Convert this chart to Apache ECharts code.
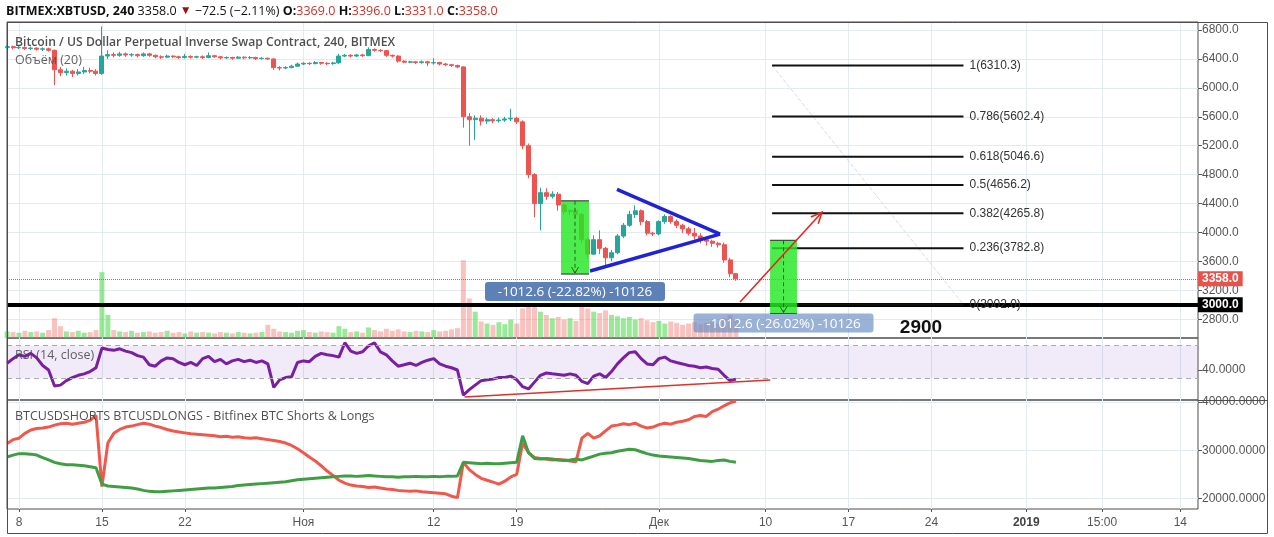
<!DOCTYPE html>
<html><head><meta charset="utf-8">
<script src="https://cdn.jsdelivr.net/npm/echarts@6/dist/echarts.min.js"></script>
<style>html,body{margin:0;padding:0;background:#fff}#c{width:1274px;height:537px}</style>
</head><body><div id="c"></div><script>
// ---------- DATA ----------
const START_DAY = 6.0;   // days since 1 Oct 2018 of first 12h candle
const STEP = 0.5;        // 12h candles
const candles = [ // [open, close, low, high]
[6560,6570,6540,6590],[6570,6555,6530,6585],[6555,6560,6535,6580],[6560,6545,6525,6575],[6545,6550,6520,6570],[6550,6535,6515,6560],[6535,6540,6510,6560],[6540,6520,6500,6555],
[6520,6250,6040,6530],[6250,6210,6160,6290],[6210,6230,6170,6270],[6230,6200,6150,6250],[6200,6220,6170,6260],[6220,6240,6190,6290],[6240,6230,6200,6280],[6230,6200,6170,6260],
[6200,6440,6180,6850],[6440,6460,6400,6520],[6460,6450,6420,6490],[6450,6470,6430,6500],[6470,6455,6430,6490],[6455,6460,6430,6480],[6460,6445,6420,6475],[6445,6470,6430,6490],
[6470,6450,6430,6485],[6450,6430,6410,6460],[6430,6425,6400,6450],[6425,6440,6410,6460],[6440,6430,6410,6450],[6430,6420,6400,6445],[6420,6435,6405,6470],[6435,6425,6405,6450],
[6425,6430,6410,6445],[6430,6420,6400,6450],[6420,6445,6410,6490],[6445,6430,6415,6455],[6430,6415,6395,6440],[6415,6420,6400,6435],[6420,6410,6390,6430],[6410,6425,6400,6440],
[6425,6415,6395,6435],[6415,6420,6400,6440],[6420,6405,6385,6430],[6405,6410,6390,6425],[6410,6400,6385,6420],[6400,6280,6250,6410],[6280,6275,6240,6300],[6275,6280,6260,6300],
[6280,6300,6270,6320],[6300,6330,6290,6350],[6330,6340,6315,6355],[6340,6335,6315,6355],[6335,6350,6325,6370],[6350,6340,6320,6360],[6340,6335,6315,6355],[6335,6345,6320,6360],
[6345,6440,6335,6470],[6440,6450,6425,6470],[6450,6440,6420,6465],[6440,6455,6430,6470],[6455,6445,6430,6470],[6445,6530,6440,6560],[6530,6520,6500,6545],[6520,6515,6495,6535],
[6515,6450,6430,6525],[6450,6440,6420,6460],[6440,6370,6350,6450],[6370,6355,6340,6380],[6355,6360,6340,6375],[6360,6350,6330,6370],[6350,6360,6335,6380],[6360,6345,6300,6375],
[6345,6350,6320,6410],[6350,6330,6310,6360],[6330,6320,6300,6345],[6320,6310,6290,6330],[6310,6290,6270,6320],[6290,5600,5450,6300],[5600,5560,5200,5650],[5560,5580,5280,5620],
[5580,5540,5480,5620],[5540,5560,5500,5590],[5560,5545,5510,5580],[5545,5555,5520,5590],[5555,5570,5530,5600],[5570,5580,5540,5710],[5580,5530,5500,5600],[5530,5200,5150,5550],
[5200,4800,4750,5230],[4800,4400,4210,4820],[4400,4550,4030,4620],[4550,4500,4450,4610],[4500,4530,4470,4570],[4530,4380,4300,4560],[4380,4290,4250,4400],[4290,4300,4240,4320],
[4300,4250,4200,4320],[4250,3900,3850,4270],[3900,3700,3640,3920],[3700,3900,3690,3960],[3900,3780,3700,4030],[3780,3650,3545,3800],[3650,3720,3600,3760],[3720,3950,3700,3980],
[3950,4100,3920,4130],[4100,4250,4080,4300],[4250,4300,4200,4375],[4300,4150,4100,4320],[4150,3990,3960,4170],[3990,3980,3950,4010],[3980,4150,3960,4170],[4150,4220,4120,4250],
[4220,4150,4120,4240],[4150,4100,4060,4180],[4100,4050,3990,4120],[4050,3990,3960,4080],[3990,3950,3900,4060],[3950,3900,3850,3990],[3900,3880,3820,3930],[3880,3850,3800,3900],
[3850,3830,3790,3870],[3830,3620,3580,3860],[3620,3430,3380,3650],[3430,3358,3331,3440]
];
const volumes = [10,9,8,11,9,10,8,12, 30,18,10,9,11,8,9,12, 100,35,12,10,9,11,8,9,10,8,9,11,
 8,9,7,10,8,9,8,7,9,8,7,9,8,7,8,9, 20,14,10,9,8,11,12,9,8,10,9,8,
 18,14,9,10,8,16,12,10,14,11,13,10,9,11,10,9,12,10,11,13,15,
 118,60,40,25,22,20,24,21,28,22, 45,50,52,40,35,30,32,28,30,26,
 48,45,40,38,42,35,33,30,32,28,30,27, 24,26,22,25,23,20,22,24,21,23,25,22, 30,35,28];
const rsi = [48.4,54,58.7,56.8,60.5,54.9,45.6,40, 20.4,21.4,26.9,30.7,33.5,35.3,38.1,42.8,
 67,65.2,64.2,66.1,63.3,61.4,57.7,55.9,46.5,44.7,51.2,54.9,
 54,49.3,46.5,49.3,45.6,54,56.8,50.3,53.1,47.5,51.2,53.1,50.3,52.1,49.3,51.2,
 47.5,18.6,27.9,30.7,31.6,49.3,51.2,50.3,56.8,60.5,58.7,57.7,
 55.9,73.6,63.3,60.5,62.4,69.8,73.6,62.4,58.7,51.2,44.7,46.5,48.4,45.6,49.3,52.1,54,47.5,44.7,42.8,40,
 9.2,15.8,21.4,26.9,27.9,28.8,30.7,30.7,32.5,27.9, 19.5,16.7,25.1,33.5,36.3,35.3,34.4,33.5,35.3,33.5,
 26,23.2,32.5,35.3,30.7,38.1,47.5,54.9,61.4,62.4,54,47.5, 46.5,54,55.9,51.2,49.3,47.5,45.6,44.7,42.8,43.7,41.9,40.9,
 33.5,26.9,28.8];
const shorts = [31400,32200,32500,33500,34200,34500,34600,34800,35200,35500,35600,35400,35600,35800,36200,37200,
 22500,31500,33500,34300,34800,35000,35300,35600,35400,35000,34700,34300,34000,33800,33600,33400,
 33300,33200,33100,33000,32800,32900,32700,32800,32600,32500,32600,32400,32200,32000,31800,31500,
 31000,30300,29500,28600,27800,26800,25700,24800,23800,23200,22800,22600,22500,22300,22400,22200,
 22000,21900,21700,21600,21500,21600,21400,21300,21200,21100,21000,20500,20200,27500,26000,25000,
 24200,23800,23400,23000,23600,24500,25000,31500,29500,28500,28300,28200,28000,28100,28000,27800,
 27600,32500,33500,32500,33000,34000,35000,35200,35500,35300,35600,35000,34600,34800,35300,35600,
 35400,35800,36000,36300,37000,37200,37000,38000,38500,39200,39800,40200];
const longs = [28600,29000,29300,29300,29200,29000,28500,28000,27500,27200,27000,27000,26900,26800,26600,26400,
 23000,22600,22500,22400,22300,22200,22000,21700,21500,21400,21400,21500,21600,21700,21800,21900,
 22000,22100,22200,22200,22300,22400,22500,22700,22800,22900,23000,23100,23200,23300,23400,23500,
 23700,23900,24000,24100,24200,24300,24400,24500,24600,24700,24700,24600,24700,24800,24700,24600,
 24500,24500,24400,24500,24500,24600,24500,24500,24600,24500,24600,24600,24700,27500,27400,27300,
 27200,27300,27200,27200,27300,27400,27500,33000,29500,28300,28200,28300,28200,28000,27900,28000,
 28200,28000,28400,28800,29200,29400,29500,29800,30000,30200,30100,29700,29300,29000,28800,28700,
 28600,28500,28400,28300,28100,27900,27800,27700,27900,28000,27700,27500];
const dayTicks = [7,14,21,31,42,49,61,70,77,84,92,98.4,105];
const dayTickLabels = ['8','15','22','Ноя','12','19','Дек','10','17','24','2019','15:00','14'];
const priceTicks = [2800,3200,3600,4000,4400,4800,5200,5600,6000,6400,6800];
const rsiTicks = [40];
const slTicks = [20000,30000,40000];
const fibLevels = ['1','0.786','0.618','0.5','0.382','0.236','0'];
const fibPrices = [6310.3,5602.4,5046.6,4656.2,4265.8,3782.8,3002.0];
const fibDays = [70.55, 86.7];
const triangleTop = [[57.46,4596],[66.16,3976]];
const triangleBottom = [[55.19,3466],[66.16,3976]];
const boxes = [[52.74,55.10,4437.0,3424.4,'-1012.6 (-22.82%) -10126'],[70.38,72.65,3891.6,2879.0,'-1012.6 (-26.02%) -10126']];
const arrowLine = [[67.85,3039],[74.76,4279]];
const rsiTrend = [[44.6,6.8],[70.4,27.7]];
const lastPrice = 3358.0;
const supportPrice = 3000.0;
const noteText = '2900';
const headerSymbol = 'BITMEX:XBTUSD, 240';
const headerLast = '3358.0';
const headerChange = '−72.5 (−2.11%)';
const headerOHLC = [['O','3369.0'],['H','3396.0'],['L','3331.0'],['C','3358.0']];

// ---------- CHART ----------
const chart = echarts.init(document.getElementById('c'), null, {renderer:'canvas'});
const dayOf = i => START_DAY + i*STEP;
const UP='#26a69a', DOWN='#ef5350';
const candleData = candles.map((c,i)=>[dayOf(i), c[0], c[1], c[2], c[3]]);
const volData = volumes.map((v,i)=>({value:[dayOf(i), v], itemStyle:{color: candles[i][1]>=candles[i][0] ? 'rgba(70,215,70,0.55)' : 'rgba(240,110,100,0.42)'}}));
const rsiData = rsi.map((v,i)=>[dayOf(i), v]);
const shortsData = shorts.map((v,i)=>[dayOf(i), v]);
const longsData = longs.map((v,i)=>[dayOf(i), v]);
const GRID='#e4ebee', AX='#555', FONT="'Liberation Sans', Arial, sans-serif", OS="'Open Sans', 'Liberation Sans', sans-serif";
const XMIN=5.99, XMAX=106.49;

function xAxisCfg(gi){
  return {type:'value', gridIndex:gi, min:XMIN, max:XMAX,
    axisLine:{show:false},
    splitLine:{show:true, lineStyle:{color:GRID, width:1}},
    axisTick:{show: gi===2, customValues: dayTicks, length:3, lineStyle:{color:AX}},
    axisLabel:{show: gi===2, customValues: dayTicks, color:'#555', fontSize:12, fontFamily:FONT, margin:8,
      formatter: v => { const k = dayTicks.findIndex(t=>Math.abs(t-v)<0.01); const s = k>=0?dayTickLabels[k]:''; return s==='2019' ? '{b|'+s+'}' : s; },
      rich:{b:{fontWeight:'bold', color:'#444', fontSize:12, fontFamily:FONT}}}
  };
}
function yAxisCfg(gi, min, max, ticks, dec, split){
  return {type:'value', gridIndex:gi, position:'right', min, max,
    axisLine:{show:false},
    splitLine:{show:split, lineStyle:{color:GRID}},
    axisTick:{show:true, customValues:ticks, length:4, lineStyle:{color:AX}},
    axisLabel:{customValues:ticks, formatter:v=>v.toFixed(dec), color:'#555', fontSize:12, fontFamily:FONT, margin:4}
  };
}

const option = {
  animation:false,
  backgroundColor:'#fff',
  textStyle:{fontFamily:FONT},
  grid:[
    {left:7, top:22, width:1191, height:316, show:true, borderColor:'#4d4d4d', borderWidth:1},
    {left:7, top:338, width:1191, height:62, show:true, borderColor:'#4d4d4d', borderWidth:1},
    {left:7, top:400, width:1191, height:109, show:true, borderColor:'#4d4d4d', borderWidth:1}
  ],
  xAxis:[xAxisCfg(0), xAxisCfg(1), xAxisCfg(2)],
  yAxis:[
    yAxisCfg(0, 2540, 6911, priceTicks, 1, true),
    {type:'value', gridIndex:0, min:0, max:480, show:false, splitLine:{show:false}},
    yAxisCfg(1, 3.1, 79.4, rsiTicks, 4, false),
    yAxisCfg(2, 17850, 40400, slTicks, 4, true)
  ],
  series:[
    {type:'bar', name:'volume', xAxisIndex:0, yAxisIndex:1, data:volData, barWidth:5, z:1, silent:true},
    {type:'candlestick', name:'XBTUSD', xAxisIndex:0, yAxisIndex:0, data:candleData,
      dimensions:['day','open','close','lowest','highest'], encode:{x:0, y:[1,2,3,4]},
      barWidth:4.5, z:2,
      itemStyle:{color:UP, color0:DOWN, borderColor:UP, borderColor0:DOWN, borderWidth:1}},
    {type:'line', name:'priceLines', xAxisIndex:0, yAxisIndex:0, data:[[candleData[candleData.length-1][0], lastPrice]],
      showSymbol:false, symbol:'none', lineStyle:{opacity:0}, clip:false, z:6,
      markLine:{silent:true, symbol:'none', animation:false,
        data:[
          {yAxis:lastPrice, lineStyle:{type:'dotted', color:'#e05a50', width:1},
            label:{show:true, position:'end', distance:0, formatter:lastPrice.toFixed(1), color:'#fff', backgroundColor:'#e5544b', padding:[2,4,1,4], fontSize:12, fontWeight:'bold', fontFamily:FONT}},
          {yAxis:supportPrice, lineStyle:{type:'solid', color:'#000', width:4},
            label:{show:true, position:'end', distance:0, formatter:supportPrice.toFixed(1), color:'#fff', backgroundColor:'#000', padding:[2,4,1,4], fontSize:12, fontWeight:'bold', fontFamily:FONT}}
        ]}},
    {type:'line', name:'fibDiag', xAxisIndex:0, yAxisIndex:0, data:[[fibDays[0], fibPrices[0]],[fibDays[1], fibPrices[fibPrices.length-1]]],
      symbol:'none', lineStyle:{color:'#dcdcdc', width:1, type:'dashed'}, z:3, silent:true},
    {type:'custom', name:'fib', xAxisIndex:0, yAxisIndex:0, z:7, silent:true,
      data: fibPrices.map((p,i)=>[fibDays[0], p, i]), encode:{x:0, y:1},
      renderItem:(params, api)=>{
        const i = api.value(2); const p = fibPrices[i];
        const a = api.coord([fibDays[0], p]), b = api.coord([fibDays[1], p]);
        return {type:'group', children:[
          {type:'line', shape:{x1:a[0], y1:a[1], x2:b[0], y2:b[1]}, style:{stroke:'#111', lineWidth:2}},
          {type:'text', style:{text: fibLevels[i]+'('+p.toFixed(1)+')', x:b[0]+6, y:a[1], verticalAlign:'middle', align:'left', fill:'#333', font:'12px '+FONT}}
        ]};
      }},
    {type:'line', name:'triTop', xAxisIndex:0, yAxisIndex:0, data:triangleTop, symbol:'none', lineStyle:{color:'#1f22d6', width:3.5}, z:8, silent:true},
    {type:'line', name:'triBottom', xAxisIndex:0, yAxisIndex:0, data:triangleBottom, symbol:'none', lineStyle:{color:'#1f22d6', width:3.5}, z:8, silent:true},
    {type:'custom', name:'boxes', xAxisIndex:0, yAxisIndex:0, z:9, silent:true, clip:false,
      data: boxes.map((b,i)=>[b[0], b[2], i]), encode:{x:0, y:1},
      renderItem:(params, api)=>{
        const k = api.value(2); const b = boxes[k];
        const p0 = api.coord([b[0], b[2]]), p1 = api.coord([b[1], b[3]]);
        const x0=p0[0], y0=p0[1], x1=p1[0], y1=p1[1], cx=(x0+x1)/2;
        const gap = k===0 ? 8 : 0;
        const lw = 180, lh = 19, ly = y1 + gap;
        return {type:'group', children:[
          {type:'rect', shape:{x:x0, y:y0, width:x1-x0, height:y1-y0}, style:{fill:'rgba(35,232,35,0.82)'}},
          {type:'line', shape:{x1:x0, y1:y0, x2:x1, y2:y0}, style:{stroke:'#2a2a2a', lineWidth:1}},
          {type:'line', shape:{x1:x0, y1:y1, x2:x1, y2:y1}, style:{stroke:'#2a2a2a', lineWidth:1}},
          {type:'line', shape:{x1:cx, y1:y0, x2:cx, y2:y1-1}, style:{stroke:'#2d5e2d', lineWidth:1, lineDash:[4,3]}},
          {type:'polyline', shape:{points:[[cx-3.5,y1-7],[cx,y1-1],[cx+3.5,y1-7]]}, style:{stroke:'#2d5e2d', lineWidth:1, fill:null}},
          {type:'rect', shape:{x:cx-lw/2, y:ly, width:lw, height:lh, r:3}, style:{fill: k===0 ? 'rgba(88,125,180,0.97)' : 'rgba(110,145,195,0.7)'}},
          {type:'text', style:{text:b[4], x:cx, y:ly+lh/2+1, align:'center', verticalAlign:'middle', fill:'#fff', font:'13.5px '+OS}}
        ]};
      }},
    {type:'custom', name:'arrow', xAxisIndex:0, yAxisIndex:0, z:9, silent:true, clip:false,
      data:[[arrowLine[0][0], arrowLine[0][1]]], encode:{x:0, y:1},
      renderItem:(params, api)=>{
        const a = api.coord(arrowLine[0]), b = api.coord(arrowLine[1]);
        const ang = Math.atan2(b[1]-a[1], b[0]-a[0]); const L=11, W=5;
        const q1=[b[0]-L*Math.cos(ang)+W*Math.sin(ang), b[1]-L*Math.sin(ang)-W*Math.cos(ang)];
        const q2=[b[0]-L*Math.cos(ang)-W*Math.sin(ang), b[1]-L*Math.sin(ang)+W*Math.cos(ang)];
        return {type:'group', children:[
          {type:'line', shape:{x1:a[0], y1:a[1], x2:b[0], y2:b[1]}, style:{stroke:'#e0281e', lineWidth:1.6}},
          {type:'polyline', shape:{points:[q1,b,q2]}, style:{stroke:'#e0281e', lineWidth:1.6, fill:null}}
        ]};
      }},
    {type:'line', name:'RSI', xAxisIndex:1, yAxisIndex:2, data:rsiData, symbol:'none', z:3,
      lineStyle:{color:'#7b1fa2', width:3},
      markArea:{silent:true, itemStyle:{color:'rgba(150,105,215,0.14)'}, data:[[{yAxis:30},{yAxis:70}]]},
      markLine:{silent:true, symbol:'none', label:{show:false}, lineStyle:{type:[5,4], color:'#aaa', width:1}, data:[{yAxis:30},{yAxis:70}]}},
    {type:'line', name:'rsiTrend', xAxisIndex:1, yAxisIndex:2, data:rsiTrend, symbol:'none', lineStyle:{color:'#e0302a', width:1.6}, z:4, silent:true},
    {type:'line', name:'BTCUSDSHORTS', xAxisIndex:2, yAxisIndex:3, data:shortsData, symbol:'none', lineStyle:{color:'#f0584c', width:3}, z:3},
    {type:'line', name:'BTCUSDLONGS', xAxisIndex:2, yAxisIndex:3, data:longsData, symbol:'none', lineStyle:{color:'#3f9e44', width:3}, z:3}
  ],
  graphic:[
    {type:'rect', z:100, silent:true, shape:{x:7.5, y:22.5, width:1260, height:511}, style:{fill:null, stroke:'#4d4d4d', lineWidth:1}},
    {type:'line', z:100, silent:true, shape:{x1:1198, y1:400.5, x2:1268, y2:400.5}, style:{stroke:'#4d4d4d', lineWidth:1}},
    {type:'text', z:100, silent:true, x:6, y:11, style:{
      text:'{b|'+headerSymbol+'} {n|'+headerLast+'}{r| ▼ }{n|'+headerChange+'} '+headerOHLC.map(o=>'{b|'+o[0]+':}{v|'+o[1]+'}').join(' '),
      verticalAlign:'middle',
      rich:{
        b:{fontFamily:OS, fontSize:12.5, fontWeight:'bold', fill:'#111'},
        n:{fontFamily:OS, fontSize:12.5, fill:'#111'},
        r:{fontFamily:OS, fontSize:12, fill:'#9b1111'},
        v:{fontFamily:OS, fontSize:12.5, fill:'#c8332a'}
      }}},
    {type:'text', z:100, silent:true, x:15, y:43, style:{text:'Bitcoin / US Dollar Perpetual Inverse Swap Contract, 240, BITMEX', verticalAlign:'middle', fill:'rgba(60,60,60,0.9)', font:'600 12.2px '+OS}},
    {type:'text', z:100, silent:true, x:15, y:60, style:{text:'Объём (20)', verticalAlign:'middle', fill:'rgba(80,80,80,0.9)', font:'12.5px '+OS}},
    {type:'text', z:100, silent:true, x:15, y:355, style:{text:'RSI (14, close)', verticalAlign:'middle', fill:'rgba(70,70,70,0.85)', font:'12.5px '+OS}},
    {type:'text', z:100, silent:true, x:15, y:416, style:{text:'BTCUSDSHORTS BTCUSDLONGS - Bitfinex BTC Shorts & Longs', verticalAlign:'middle', fill:'rgba(60,60,60,0.9)', font:'12.5px '+OS}},
    {type:'text', z:100, silent:true, x:921, y:328, style:{text:noteText, align:'center', verticalAlign:'middle', fill:'#111', font:'bold 19px '+FONT}}
  ]
};
chart.setOption(option);
</script></body></html>
